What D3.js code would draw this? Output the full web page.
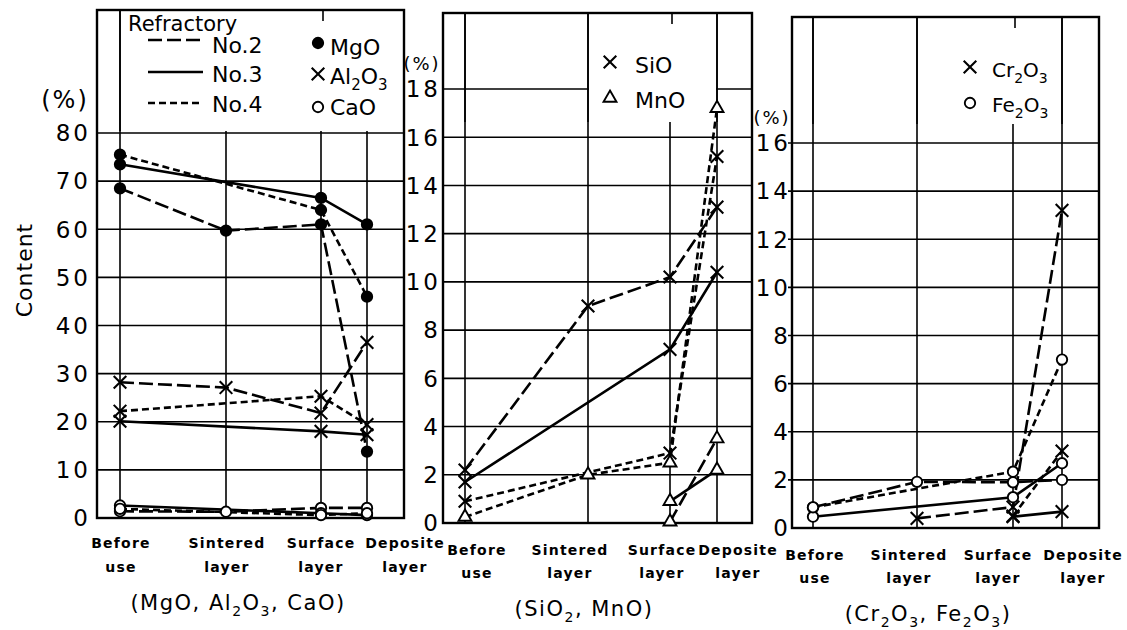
<!DOCTYPE html>
<html>
<head>
<meta charset="utf-8">
<script src="https://cdn.jsdelivr.net/npm/d3@7"></script>
<style>
  body { margin: 0; background: #fff; }
  svg text { font-family: "DejaVu Sans", sans-serif; fill: #000; }
</style>
</head>
<body>
<svg id="chart" width="1127" height="630"></svg>
<script>
// stages along x (same for all three panels)
const stages = ['Before use', 'Sintered layer', 'Surface layer', 'Deposite layer'];
const stageLabels = [['Before', 'use'], ['Sintered', 'layer'], ['Surface', 'layer'], ['Deposite', 'layer']];

// y ticks
const ticks1 = [0, 10, 20, 30, 40, 50, 60, 70, 80];
const ticks2 = [0, 2, 4, 6, 8, 10, 12, 14, 16, 18];
const ticks3 = [0, 2, 4, 6, 8, 10, 12, 14, 16];

// panel 1 : MgO, Al2O3, CaO (%), null = not measured
const mgoNo2 = [68.5, 59.7, 61.0, 13.8];
const mgoNo3 = [73.5, null, 66.5, 61.0];
const mgoNo4 = [75.5, null, 64.0, 46.0];
const al2o3No2 = [28.2, 27.1, 21.8, 36.5];
const al2o3No3 = [20.1, null, 18.0, 17.3];
const al2o3No4 = [22.2, null, 25.3, 19.4];
const caoNo2 = [1.4, 1.3, 2.1, 2.1];
const caoNo3 = [2.6, null, 1.0, 0.6];
const caoNo4 = [1.9, null, 0.6, 1.0];

// panel 2 : SiO2, MnO
const sio2No2 = [2.2, 9.0, 10.2, 13.1];
const sio2No3 = [1.7, null, 7.2, 10.4];
const sio2No4 = [0.9, null, 2.9, 15.2];
const mnoNo2 = [null, null, 0.05, 3.5];
const mnoNo3 = [null, null, 0.9, 2.2];
const mnoNo4 = [0.25, 2.0, 2.5, 17.2];

// panel 3 : Cr2O3, Fe2O3
const cr2o3No2 = [null, 0.4, 0.87, 13.2];
const cr2o3No3 = [null, null, 0.47, 0.68];
const cr2o3No4 = [null, null, 0.5, 3.2];
const fe2o3No2 = [0.86, 1.92, 1.9, 2.0];
const fe2o3No3 = [0.47, null, 1.28, 2.69];
const fe2o3No4 = [0.86, null, 2.34, 7.0];

// line style of each refractory
const dashOf = { 'No.2': '14,5', 'No.3': null, 'No.4': '7,4' };

const svg = d3.select('#chart');

// text with subscripts: "Al_2O_3"
function richText(sel, str, size) {
  const sub = Math.round(size * 0.68);
  const shift = Math.round(size * 0.28);
  let down = false;
  str.split(/(_\d)/).filter(s => s.length).forEach(p => {
    if (p[0] === '_') {
      sel.append('tspan').text(p[1]).attr('dy', shift).style('font-size', sub + 'px');
      down = true;
    } else {
      const t = sel.append('tspan').text(p);
      if (down) { t.attr('dy', -shift); down = false; }
    }
  });
  return sel;
}

function symbolPath(kind) {
  if (kind === 'x') return d3.symbol().type(d3.symbolTimes).size(105)();
  if (kind === 'tri') return d3.symbol().type(d3.symbolTriangle2).size(120)();
  return d3.symbol().type(d3.symbolCircle).size(85)();
}

function drawSymbol(g, kind, x, y) {
  g.append('path').attr('d', symbolPath(kind))
    .attr('transform', `translate(${x},${y})`)
    .attr('fill', kind === 'dot' ? '#000' : '#fff')
    .attr('stroke', '#000')
    .attr('stroke-width', kind === 'x' ? 2.1 : 1.9);
}

const panels = [
  {
    ticks: ticks1, left: 97, right: 404, top: 10, y0: 518, yMax: 80, yMaxPx: 133,
    stageX: [120, 226, 321, 367], labelX: [121, 227, 321, 405], labelY: [548, 572],
    tickX: 91, tickOut: 0,
    mask: { x0: 121, x1: 403, y1: 131 }, fullLines: [0], topTick: 2,
    pct: { x: 65, y: 108, size: 24 },
    subtitle: { text: '(MgO, Al_2O_3, CaO)', x: 238, y: 610 },
    series: [
      { ref: 'No.2', vals: mgoNo2, sym: 'dot' }, { ref: 'No.3', vals: mgoNo3, sym: 'dot' }, { ref: 'No.4', vals: mgoNo4, sym: 'dot' },
      { ref: 'No.2', vals: al2o3No2, sym: 'x' }, { ref: 'No.3', vals: al2o3No3, sym: 'x' }, { ref: 'No.4', vals: al2o3No4, sym: 'x' },
      { ref: 'No.2', vals: caoNo2, sym: 'o' }, { ref: 'No.3', vals: caoNo3, sym: 'o' }, { ref: 'No.4', vals: caoNo4, sym: 'o' }
    ]
  },
  {
    ticks: ticks2, left: 443, right: 752, top: 13, y0: 523, yMax: 18, yMaxPx: 89,
    stageX: [465, 588, 670, 717], labelX: [477, 570, 662, 738], labelY: [555, 578],
    tickX: 441, tickOut: 0,
    mask: { x0: 589, x1: 716, y1: 122 }, fullLines: [0, 1, 3], topTick: 2,
    pct: { x: 422, y: 70, size: 18 },
    subtitle: { text: '(SiO_2, MnO)', x: 584, y: 616 },
    series: [
      { ref: 'No.2', vals: sio2No2, sym: 'x' }, { ref: 'No.3', vals: sio2No3, sym: 'x' }, { ref: 'No.4', vals: sio2No4, sym: 'x' },
      { ref: 'No.2', vals: mnoNo2, sym: 'tri' }, { ref: 'No.3', vals: mnoNo3, sym: 'tri' }, { ref: 'No.4', vals: mnoNo4, sym: 'tri' }
    ]
  },
  {
    ticks: ticks3, left: 792, right: 1099, top: 17, y0: 528, yMax: 16, yMaxPx: 143,
    stageX: [813, 917, 1013, 1062], labelX: [815, 909, 998, 1083], labelY: [560, 583],
    tickX: 791, tickOut: 4,
    mask: { x0: 918, x1: 1061, y1: 124 }, fullLines: [0, 1, 3], topTick: 2,
    pct: { x: 772, y: 124, size: 18 },
    subtitle: { text: '(Cr_2O_3, Fe_2O_3)', x: 928, y: 621 },
    series: [
      { ref: 'No.2', vals: cr2o3No2, sym: 'x' }, { ref: 'No.3', vals: cr2o3No3, sym: 'x' }, { ref: 'No.4', vals: cr2o3No4, sym: 'x' },
      { ref: 'No.2', vals: fe2o3No2, sym: 'o' }, { ref: 'No.3', vals: fe2o3No3, sym: 'o' }, { ref: 'No.4', vals: fe2o3No4, sym: 'o' }
    ]
  }
];

panels.forEach(p => {
  const g = svg.append('g');
  const y = d3.scaleLinear().domain([0, p.yMax]).range([p.y0, p.yMaxPx]);
  const x = d3.scaleLinear().domain(d3.range(stages.length)).range(p.stageX);

  // horizontal grid
  g.selectAll('.hgrid').data(p.ticks.filter(t => t > 0)).enter().append('line')
    .attr('x1', p.left - p.tickOut).attr('x2', p.right)
    .attr('y1', d => y(d)).attr('y2', d => y(d))
    .attr('stroke', '#000').attr('stroke-width', 1.6);
  // vertical grid
  g.selectAll('.vgrid').data(stages).enter().append('line')
    .attr('x1', (d, i) => x(i)).attr('x2', (d, i) => x(i))
    .attr('y1', p.top).attr('y2', p.y0)
    .attr('stroke', '#000').attr('stroke-width', 1.6);

  // blank box for the legend
  g.append('rect').attr('x', p.mask.x0).attr('y', p.top + 1)
    .attr('width', p.mask.x1 - p.mask.x0).attr('height', p.mask.y1 - p.top - 1)
    .attr('fill', '#fff');
  p.fullLines.forEach(i => {
    g.append('line').attr('x1', x(i)).attr('x2', x(i)).attr('y1', p.top).attr('y2', p.mask.y1)
      .attr('stroke', '#000').attr('stroke-width', 1.6);
  });
  g.append('line').attr('x1', x(p.topTick) + 2).attr('x2', x(p.topTick) + 2)
    .attr('y1', p.top).attr('y2', p.top + 11).attr('stroke', '#000').attr('stroke-width', 1.6);

  // frame
  g.append('rect').attr('x', p.left).attr('y', p.top)
    .attr('width', p.right - p.left).attr('height', p.y0 - p.top)
    .attr('fill', 'none').attr('stroke', '#000').attr('stroke-width', 2.4);

  // y tick labels
  g.selectAll('.tick').data(p.ticks).enter().append('text')
    .attr('x', p.tickX).attr('y', d => y(d)).attr('dy', '0.36em')
    .attr('text-anchor', 'end')
    .style('font-size', '23px').style('letter-spacing', '3px')
    .text(d => d);

  g.append('text').attr('x', p.pct.x).attr('y', p.pct.y).attr('text-anchor', 'middle')
    .style('font-size', p.pct.size + 'px').style('letter-spacing', '2px').text('(%)');

  // x labels
  stageLabels.forEach((lines, i) => {
    lines.forEach((s, k) => {
      g.append('text').attr('x', p.labelX[i]).attr('y', p.labelY[k])
        .attr('text-anchor', 'middle')
        .style('font-size', '14px').style('font-weight', 'bold').style('letter-spacing', '1.2px')
        .text(s);
    });
  });

  richText(g.append('text').attr('x', p.subtitle.x).attr('y', p.subtitle.y)
    .attr('text-anchor', 'middle').style('font-size', '21px').style('letter-spacing', '1.5px'),
    p.subtitle.text, 21);

  // data lines
  const line = d3.line().x(d => x(d.i)).y(d => y(d.v));
  p.series.forEach(s => {
    const pts = s.vals.map((v, i) => ({ i, v })).filter(d => d.v !== null);
    g.append('path').datum(pts).attr('d', line)
      .attr('fill', 'none').attr('stroke', '#000').attr('stroke-width', 2.6)
      .attr('stroke-dasharray', dashOf[s.ref]);
  });
  p.series.forEach(s => {
    s.vals.forEach((v, i) => { if (v !== null) drawSymbol(g, s.sym, x(i), y(v)); });
  });
});

// y axis title
svg.append('text').attr('transform', 'translate(32,270) rotate(-90)')
  .attr('text-anchor', 'middle').style('font-size', '22px').style('letter-spacing', '1px')
  .text('Content');

// legend panel 1
const leg1 = svg.append('g');
leg1.append('text').attr('x', 128).attr('y', 31).style('font-size', '21px').text('Refractory');
const refY = [40, 72, 103];
const refTextY = [53, 82, 112];
['No.2', 'No.3', 'No.4'].forEach((r, k) => {
  leg1.append('line').attr('x1', 148).attr('x2', 203).attr('y1', refY[k]).attr('y2', refY[k])
    .attr('stroke', '#000').attr('stroke-width', 2.6).attr('stroke-dasharray', dashOf[r]);
  leg1.append('text').attr('x', 212).attr('y', refTextY[k]).style('font-size', '22px').text(r);
});
const comp1 = [{ sym: 'dot', name: 'MgO', y: 43, ty: 55 }, { sym: 'x', name: 'Al_2O_3', y: 74, ty: 84 }, { sym: 'o', name: 'CaO', y: 107, ty: 115 }];
comp1.forEach(c => {
  drawSymbol(leg1, c.sym, 318, c.y);
  richText(leg1.append('text').attr('x', 330).attr('y', c.ty).style('font-size', '22px'), c.name, 22);
});

// legend panel 2
const leg2 = svg.append('g');
[{ sym: 'x', name: 'SiO', y: 62, ty: 73 }, { sym: 'tri', name: 'MnO', y: 98, ty: 108 }].forEach(c => {
  drawSymbol(leg2, c.sym, 610, c.y);
  richText(leg2.append('text').attr('x', 635).attr('y', c.ty).style('font-size', '22px'), c.name, 22);
});

// legend panel 3
const leg3 = svg.append('g');
[{ sym: 'x', name: 'Cr_2O_3', y: 67, ty: 77 }, { sym: 'o', name: 'Fe_2O_3', y: 103, ty: 112 }].forEach(c => {
  drawSymbol(leg3, c.sym, 970, c.y);
  richText(leg3.append('text').attr('x', 992).attr('y', c.ty).style('font-size', '20px'), c.name, 20);
});
</script>
</body>
</html>
